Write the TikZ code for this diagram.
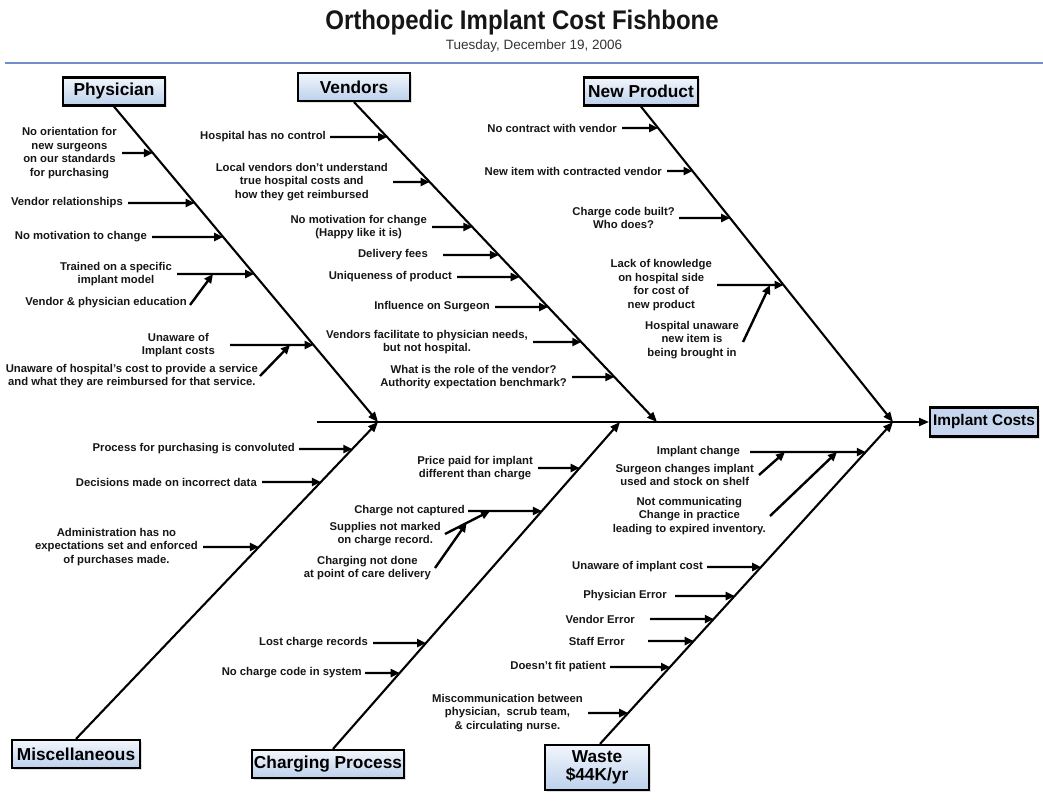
\documentclass[tikz,border=0pt]{standalone}
\usepackage{fontspec}
\setmainfont{Liberation Sans}
\usetikzlibrary{arrows.meta,shadows,calc}

\definecolor{boxtop}{RGB}{242,246,252}
\definecolor{boxbot}{RGB}{188,208,236}
\definecolor{headbox}{RGB}{198,214,238}
\definecolor{rulecol}{RGB}{112,142,202}
\definecolor{txt}{RGB}{22,22,22}

\tikzset{
  catbox/.style={draw=black, line width=2.2pt, top color=boxtop, bottom color=boxbot,
    font=\fontsize{17.3}{19.5}\selectfont\bfseries, align=center, inner sep=0pt,
    minimum height=28pt,
    drop shadow={opacity=0.25, shadow xshift=2pt, shadow yshift=-2pt}},
  cause/.style={font=\fontsize{11.3}{13.6}\selectfont\bfseries, text=txt,
    align=center, inner sep=0pt},
  bone/.style={line width=2.1pt, -{Triangle[length=10pt,width=8pt]}},
  twig/.style={line width=2.4pt, -{Triangle[length=9pt,width=8pt]}},
}

% one cause: text ending left of its arrow, arrow running to the bone
\newcommand\twig[7][4]{%
  \coordinate (#2-t) at (intersection of #6--#7 and 0,#4--100,#4);
  \node[cause, anchor=east] (#2) at ({#3-#1},#4) {#5};
  \draw[twig] ([xshift=#1pt]#2.east) -- (#2-t);
}

\begin{document}
\begin{tikzpicture}[x=1pt, y=-1pt]
\useasboundingbox (0,0) rectangle (1043,805);

% heading
\node[font=\fontsize{24}{28}\selectfont\bfseries, text=txt, anchor=base] (title) at (522,30) {\scalebox{1}[1.12]{Orthopedic Implant Cost Fishbone}};
\node[font=\fontsize{13.5}{15}\selectfont, text=black!80, anchor=base] (date) at (534,50) {Tuesday, December 19, 2006};
\draw[rulecol, line width=2.2pt] (5,63) -- (1043,63);

% effect and spine
\node[draw=black, line width=2.2pt, fill=headbox, font=\fontsize{15.4}{18}\selectfont\bfseries,
  inner xsep=3pt, inner ysep=0pt, minimum height=29pt, anchor=west,
  drop shadow={opacity=0.25, shadow xshift=2pt, shadow yshift=-2pt}] (cost) at (929,422) {Implant Costs};
\coordinate (tail) at (317,422);
\draw[bone] (tail) -- (cost.west);

% category boxes
\node[catbox, minimum width=102pt] (phys) at (114,91.5) {Physician};
\node[catbox, minimum width=112pt] (vend) at (354,87) {Vendors};
\node[catbox, minimum width=114pt] (newp) at (641,91.5) {New Product};
\node[catbox, minimum width=128pt] (misc) at (76,754) {Miscellaneous};
\node[catbox, minimum width=152pt] (chg) at (328,764) {Charging Process};
\node[catbox, minimum width=104pt, minimum height=45pt, font=\fontsize{17.3}{18.5}\selectfont\bfseries] (waste) at (597,767.5) {Waste\\\$44K/yr};

% bones
\coordinate (PhA) at (phys.south);          \coordinate (PhB) at (378,422);
\coordinate (VeA) at (vend.south);          \coordinate (VeB) at (657,422);
\coordinate (NpA) at (newp.south);          \coordinate (NpB) at (893,422);
\coordinate (MiA) at (misc.north);          \coordinate (MiB) at (378,422);
\coordinate (ChA) at ([xshift=5pt]chg.north); \coordinate (ChB) at (620,422);
\coordinate (WaA) at ([xshift=3pt]waste.north); \coordinate (WaB) at (893,422);
\foreach \a/\b in {PhA/PhB, VeA/VeB, NpA/NpB, MiA/MiB, ChA/ChB, WaA/WaB}
  \draw[bone] (\a) -- (\b);

% Physician
\twig[5]{ph1}{122}{153}{No orientation for\\new surgeons\\on our standards\\for purchasing}{PhA}{PhB}
\twig[5]{ph2}{128}{203}{Vendor relationships}{PhA}{PhB}
\twig[5]{ph3}{152}{237}{No motivation to change}{PhA}{PhB}
\twig[5]{ph4}{177}{274}{Trained on a specific\\implant model}{PhA}{PhB}
\coordinate (ph4-j) at (213,274);
\node[cause, anchor=east] (ph4a) at (187,303) {Vendor \& physician education};
\draw[twig] ([xshift=3pt,yshift=-2pt]ph4a.east) -- (ph4-j);
\twig[15]{ph5}{230}{345}{Unaware of\\Implant costs}{PhA}{PhB}
\coordinate (ph5-j) at (290,345);
\node[cause, anchor=east] (ph5a) at (258,376) {Unaware of hospital's cost to provide a service\\and what they are reimbursed for that service.};
\draw[twig] ([xshift=2pt]ph5a.east) -- (ph5-j);

% Vendors
\twig[4]{ve1}{330}{137}{Hospital has no control}{VeA}{VeB}
\twig[5]{ve2}{393}{182}{Local vendors don't understand\\true hospital costs and\\how they get reimbursed}{VeA}{VeB}
\twig[5]{ve3}{432}{227}{No motivation for change\\(Happy like it is)}{VeA}{VeB}
\twig[15]{ve4}{443}{255}{Delivery fees}{VeA}{VeB}
\twig[5]{ve5}{457}{277}{Uniqueness of product}{VeA}{VeB}
\twig[5]{ve6}{495}{307}{Influence on Surgeon}{VeA}{VeB}
\twig[5]{ve7}{533}{342}{Vendors facilitate to physician needs,\\but not hospital.}{VeA}{VeB}
\twig[5]{ve8}{572}{377}{What is the role of the vendor?\\Authority expectation benchmark?}{VeA}{VeB}

% New Product
\twig[5]{np1}{622}{128}{No contract with vendor}{NpA}{NpB}
\twig[5]{np2}{667}{171}{New item with contracted vendor}{NpA}{NpB}
\twig[4]{np3}{679}{218}{Charge code built?\\Who does?}{NpA}{NpB}
\twig[5]{np4}{717}{285}{Lack of knowledge\\on hospital side\\for cost of\\new product}{NpA}{NpB}
\coordinate (np4-j) at (770,285);
\node[cause, anchor=east] (np4a) at (739,340) {Hospital unaware\\new item is\\being brought in};
\draw[twig] ([xshift=4pt,yshift=-2pt]np4a.east) -- (np4-j);

% Miscellaneous
\twig[4]{mi1}{299}{449}{Process for purchasing is convoluted}{MiA}{MiB}
\twig[5]{mi2}{262}{482}{Decisions made on incorrect data}{MiA}{MiB}
\twig[5]{mi3}{203}{547}{Administration has no\\expectations set and enforced\\of purchases made.}{MiA}{MiB}

% Charging Process
\twig[5]{ch1}{538}{468}{Price paid for implant\\different than charge}{ChA}{ChB}
\twig[3]{ch2}{468}{511}{Charge not captured}{ChA}{ChB}
\coordinate (ch2-j) at (490,511);
\node[cause, anchor=east] (ch2a) at (441,534) {Supplies not marked\\on charge record.};
\draw[twig] ([xshift=4pt]ch2a.east) -- (ch2-j);
\coordinate (ch2a-j) at ($([xshift=4pt]ch2a.east)!0.48!(ch2-j)$);
\node[cause, anchor=east] (ch2b) at (431,568) {Charging not done\\at point of care delivery};
\draw[twig] ([xshift=4pt]ch2b.east) -- (ch2a-j);
\twig[5]{ch3}{373}{643}{Lost charge records}{ChA}{ChB}
\twig[3]{ch4}{365}{673}{No charge code in system}{ChA}{ChB}

% Waste
\twig[10]{wa1}{750}{452}{Implant change}{WaA}{WaB}
\coordinate (wa1-j1) at (785,452);
\coordinate (wa1-j2) at (837,452);
\node[cause, anchor=east] (wa1a) at (754,475) {Surgeon changes implant\\used and stock on shelf};
\draw[twig] ([xshift=5pt]wa1a.east) -- (wa1-j1);
\node[cause, anchor=east] (wa1b) at (766,516) {Not communicating\\Change in practice\\leading to expired inventory.};
\draw[twig] ([xshift=4pt]wa1b.east) -- (wa1-j2);
\twig[4]{wa2}{707}{567}{Unaware of implant cost}{WaA}{WaB}
\twig[8]{wa3}{675}{596}{Physician Error}{WaA}{WaB}
\twig[15]{wa4}{650}{619}{Vendor Error}{WaA}{WaB}
\twig[23]{wa5}{648}{641}{Staff Error}{WaA}{WaB}
\twig[4]{wa6}{610}{667}{Doesn't fit patient}{WaA}{WaB}
\twig[5]{wa7}{588}{713}{Miscommunication between\\physician,\ \ scrub team,\\\& circulating nurse.}{WaA}{WaB}

\end{tikzpicture}
\end{document}
